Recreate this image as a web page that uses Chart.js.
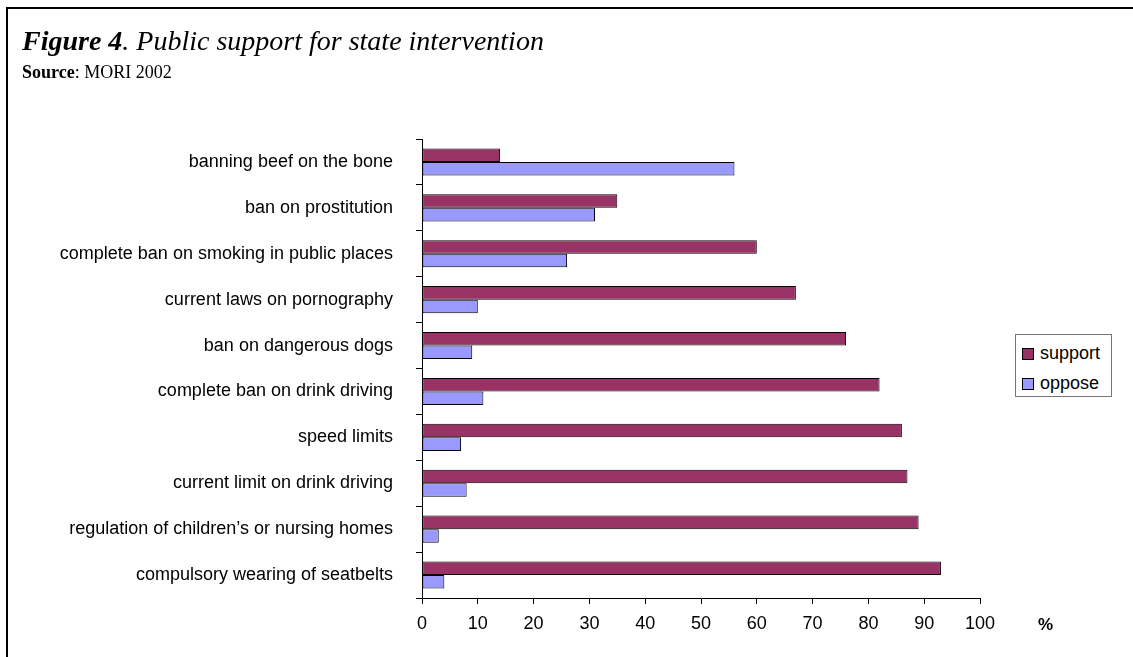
<!DOCTYPE html>
<html>
<head>
<meta charset="utf-8">
<script src="https://cdn.jsdelivr.net/npm/chart.js@4"></script>
<style>
  body { margin: 0; background: #fff; overflow: hidden; }
  #wrap { position: relative; width: 1133px; height: 657px; }
  #frame { position: absolute; left: 6px; top: 7px; width: 1200px; height: 700px; border: 2px solid #000; }
  #title { position: absolute; left: 22px; top: 27px; font: italic 28px/28px "Liberation Serif", "Times New Roman", serif; white-space: nowrap; }
  #source { position: absolute; left: 22px; top: 63px; font: 18px/18px "Liberation Serif", "Times New Roman", serif; white-space: nowrap; }
  #pct { position: absolute; left: 1038px; top: 616px; font: bold 17px/17px "Liberation Sans", Arial, sans-serif; }
  #legend { position: absolute; left: 1015px; top: 334px; width: 95px; height: 61px; border: 1px solid #777; background: #fff; }
  .item { position: absolute; left: 6px; font: 18px/18px "Liberation Sans", Arial, sans-serif; white-space: nowrap; }
  .sw { display: inline-block; width: 10px; height: 10px; border: 1px solid #000; margin-right: 6px; vertical-align: -1px; }
  canvas { position: absolute; left: 0; top: 0; }
</style>
</head>
<body>
<div id="wrap">
  <div id="frame"></div>
  <canvas id="chart" width="1133" height="657"></canvas>
  <div id="title"><b>Figure 4</b>. Public support for state intervention</div>
  <div id="source"><b>Source</b>: MORI 2002</div>
  <div id="pct">%</div>
  <div id="legend"></div>
</div>
<script>
// Data
const categories = [
  'banning beef on the bone',
  'ban on prostitution',
  'complete ban on smoking in public places',
  'current laws on pornography',
  'ban on dangerous dogs',
  'complete ban on drink driving',
  'speed limits',
  'current limit on drink driving',
  'regulation of children\u2019s or nursing homes',
  'compulsory wearing of seatbelts'
];
const support = [14, 35, 60, 67, 76, 82, 86, 87, 89, 93];
const oppose = [56, 31, 26, 10, 9, 11, 7, 8, 3, 4];
const xTicks = [0, 10, 20, 30, 40, 50, 60, 70, 80, 90, 100];

const seriesNames = ['support', 'oppose'];
const seriesColors = ['#993366', '#9999ff'];

Chart.defaults.font.family = '"Liberation Sans", Arial, sans-serif';
Chart.defaults.font.size = 18;
Chart.defaults.color = '#000';

new Chart(document.getElementById('chart').getContext('2d'), {
    type: 'bar',
    data: {
        labels: categories,
        datasets: [
            { label: seriesNames[0], data: support, backgroundColor: seriesColors[0] },
            { label: seriesNames[1], data: oppose, backgroundColor: seriesColors[1] }
        ]
    },
    options: {
        indexAxis: 'y',
        responsive: false,
        animation: false,
        devicePixelRatio: 1,
        layout: { padding: { top: 139, right: 153, bottom: 0, left: 0 } },
        datasets: {
            bar: {
                borderColor: '#000',
                borderWidth: 1,
                borderSkipped: false,
                categoryPercentage: 0.59,
                barPercentage: 1
            }
        },
        plugins: {
            legend: { display: false },
            tooltip: { enabled: false }
        },
        scales: {
            x: {
                min: 0,
                max: 100,
                afterBuildTicks: function(scale) {
                    scale.ticks = xTicks.map(v => ({ value: v }));
                },
                afterFit: function(scale) { scale.height = 59; },
                grid: { drawOnChartArea: false, color: '#000', tickLength: 6 },
                border: { color: '#000', width: 1 },
                ticks: { padding: 9, maxRotation: 0 }
            },
            y: {
                afterFit: function(scale) { scale.width = 422; },
                grid: { drawOnChartArea: false, color: '#000', tickLength: 6, offset: true },
                border: { color: '#000', width: 1 },
                ticks: { padding: 23 }
            }
        }
    }
});

// legend box like the original
const legend = document.getElementById('legend');
seriesNames.forEach(function(name, i) {
    const item = document.createElement('div');
    item.className = 'item';
    item.style.top = (9 + i * 30) + 'px';
    item.innerHTML = '<span class="sw" style="background:' + seriesColors[i] + '"></span>' + name;
    legend.appendChild(item);
});
</script>
</body>
</html>
